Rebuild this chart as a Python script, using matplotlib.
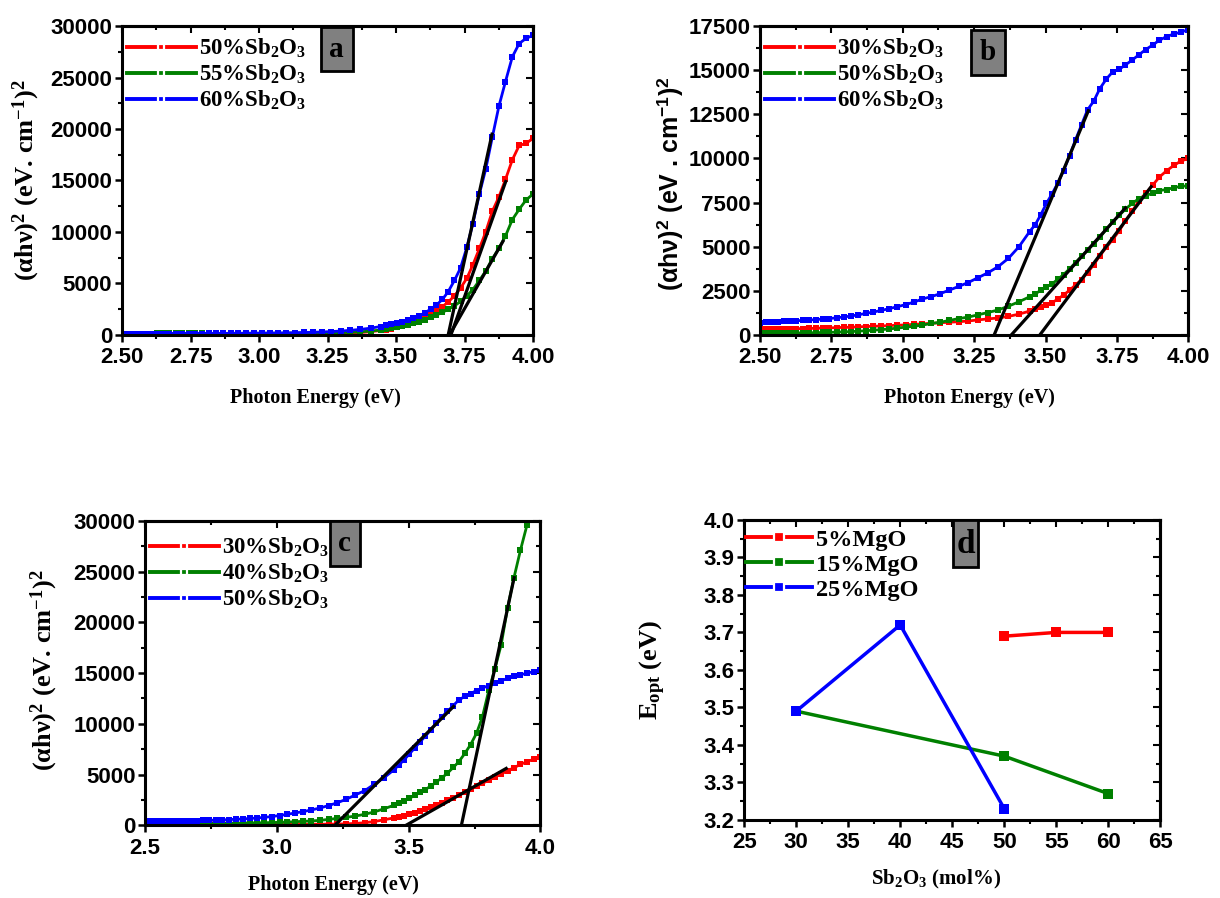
import matplotlib
matplotlib.use("Agg")
import matplotlib.pyplot as plt
from matplotlib.lines import Line2D
from matplotlib.patches import Rectangle
from matplotlib.ticker import MultipleLocator

plt.rcParams["font.family"] = ["Liberation Sans", "DejaVu Sans"]
plt.rcParams["font.weight"] = "bold"
plt.rcParams["mathtext.fontset"] = "custom"
plt.rcParams["mathtext.rm"] = "Liberation Serif:bold"
plt.rcParams["mathtext.it"] = "Liberation Serif:bold"
plt.rcParams["mathtext.bf"] = "Liberation Serif:bold"
plt.rcParams["mathtext.sf"] = "Liberation Sans:bold"

# ==================================================
# DATA
# ==================================================
E = [2.500, 2.520, 2.541, 2.562, 2.583, 2.605, 2.627, 2.650, 2.672, 2.696,
     2.719, 2.743, 2.768, 2.793, 2.818, 2.844, 2.870, 2.897, 2.925, 2.952,
     2.981, 3.010, 3.039, 3.069, 3.100, 3.131, 3.163, 3.196, 3.229, 3.263,
     3.298, 3.333, 3.370, 3.407, 3.444, 3.464, 3.483, 3.503, 3.523, 3.543,
     3.563, 3.584, 3.605, 3.626, 3.647, 3.669, 3.690, 3.713, 3.735, 3.758,
     3.780, 3.804, 3.827, 3.851, 3.875, 3.899, 3.924, 3.949, 3.974, 4.000]

# panel a
a_50 = [90, 90, 85, 85, 85, 80, 80, 80, 80, 75, 75, 75, 70, 70, 70, 65, 65, 60, 60, 60,
        55, 55, 50, 50, 45, 45, 45, 50, 60, 80, 110, 160, 230, 320, 440, 520, 620, 740, 870, 1030,
        1220, 1450, 1720, 2020, 2350, 2750, 3200, 3800, 4550, 5500, 6800, 8400, 10000, 12000, 13400,
        15100, 17000, 18400, 18600, 19100]
a_55 = [140, 140, 140, 140, 140, 140, 145, 145, 145, 145, 150, 150, 150, 150, 155, 155, 155, 160,
        160, 160, 165, 165, 170, 170, 175, 180, 185, 190, 200, 210, 230, 260, 310, 380, 480, 550,
        630, 730, 850, 980, 1130, 1300, 1480, 1700, 1930, 2200, 2480, 2820, 3250, 3800, 4400, 5300,
        6200, 7400, 8400, 9600, 11200, 12200, 13100, 13700]
a_60 = [100, 100, 105, 110, 110, 115, 120, 120, 125, 130, 130, 135, 140, 140, 145, 150, 150, 155,
        160, 165, 170, 175, 180, 190, 200, 220, 240, 260, 290, 330, 380, 450, 540, 660, 820, 920,
        1020, 1130, 1260, 1430, 1620, 1850, 2150, 2500, 2900, 3450, 4200, 5300, 6500, 8500, 10800,
        13700, 16100, 19200, 22200, 24600, 27000, 28300, 28800, 29100]
fit_a_x = [[3.700, 3.900], [3.695, 3.890], [3.690, 3.850]]
fit_a_y = [[0, 14900], [0, 9100], [0, 19500]]

# panel b
b_30 = [320, 330, 335, 340, 345, 350, 355, 360, 370, 380, 390, 400, 415, 430, 440, 460, 475, 490,
        510, 530, 550, 570, 600, 630, 660, 690, 720, 750, 790, 850, 910, 960, 1050, 1180, 1350, 1450,
        1560, 1690, 1830, 2030, 2260, 2530, 2830, 3130, 3530, 3980, 4490, 4960, 5400, 5900, 6480,
        7020, 7600, 8030, 8480, 8950, 9300, 9600, 9850, 10000]
b_50 = [100, 100, 102, 105, 108, 110, 115, 120, 125, 130, 140, 150, 160, 175, 190, 215, 240, 270,
        300, 340, 390, 440, 490, 560, 650, 720, 820, 930, 1010, 1140, 1270, 1410, 1630, 1880, 2160,
        2320, 2530, 2710, 2900, 3150, 3420, 3740, 4100, 4460, 4800, 5160, 5530, 5980, 6400, 6770,
        7130, 7460, 7720, 7900, 8030, 8180, 8240, 8340, 8420, 8450]
b_60 = [700, 715, 730, 750, 770, 790, 805, 825, 845, 870, 900, 930, 970, 1020, 1070, 1140, 1220,
        1300, 1390, 1490, 1600, 1720, 1860, 2040, 2170, 2340, 2540, 2750, 2970, 3240, 3520, 3860,
        4340, 5000, 5850, 6250, 6800, 7450, 8000, 8600, 9300, 10150, 11050, 11900, 12750, 13250,
        13950, 14500, 14900, 15050, 15300, 15580, 15870, 16170, 16420, 16700, 16900, 17050, 17150,
        17300]
fit_b_x = [[3.48, 3.87], [3.38, 3.78], [3.32, 3.65]]
fit_b_y = [[0, 8400], [0, 7200], [0, 12700]]

# panel c (40% series stops at 3.949 eV)
c_30 = [315, 310, 305, 300, 295, 290, 280, 270, 260, 250, 240, 230, 220, 210, 200, 190, 180, 170,
        160, 150, 140, 130, 120, 115, 110, 105, 105, 110, 120, 140, 180, 250, 370, 540, 730, 840,
        960, 1090, 1240, 1420, 1580, 1760, 1990, 2200, 2450, 2700, 2960, 3270, 3550, 3850, 4130,
        4440, 4740, 5060, 5360, 5670, 5990, 6270, 6500, 6700]
c_40 = [140, 140, 145, 150, 150, 155, 160, 165, 170, 175, 180, 185, 190, 195, 200, 210, 220, 230,
        240, 250, 270, 290, 320, 350, 390, 430, 480, 580, 680, 780, 910, 1080, 1320, 1630, 1970,
        2170, 2420, 2660, 2950, 3250, 3520, 3860, 4270, 4680, 5130, 5700, 6250, 7080, 7950, 9100,
        10700, 13300, 15400, 17800, 21400, 24350, 27100, 29600]
c_50 = [380, 385, 390, 395, 400, 410, 420, 430, 440, 455, 470, 490, 510, 530, 560, 590, 620, 670,
        720, 780, 860, 960, 1080, 1210, 1350, 1510, 1700, 1940, 2220, 2560, 2990, 3410, 4050, 4700,
        5470, 5960, 6460, 7040, 7620, 8210, 8780, 9390, 10080, 10690, 11220, 11790, 12340, 12700,
        12980, 13280, 13530, 13770, 13990, 14240, 14470, 14670, 14830, 14980, 15150, 15300]
fit_c_x = [[3.49, 3.87], [3.70, 3.90], [3.22, 3.67]]
fit_c_y = [[0, 5600], [0, 24400], [0, 11700]]

# panel d
mgo5_x, mgo5_y = [50, 55, 60], [3.69, 3.70, 3.70]
mgo15_x, mgo15_y = [30, 50, 60], [3.49, 3.37, 3.27]
mgo25_x, mgo25_y = [30, 40, 50], [3.49, 3.72, 3.23]

COLORS = ["#ff0000", "#008000", "#0000ff"]
SERIF = "Liberation Serif"


def style_axes(ax, xmaj, ymaj):
    for s in ax.spines.values():
        s.set_linewidth(2.2)
    ax.xaxis.set_major_locator(MultipleLocator(xmaj))
    ax.xaxis.set_minor_locator(MultipleLocator(xmaj / 2))
    ax.yaxis.set_major_locator(MultipleLocator(ymaj))
    ax.yaxis.set_minor_locator(MultipleLocator(ymaj / 2))
    ax.tick_params(which="major", direction="out", length=5, width=1.8, labelsize=16, pad=2)
    ax.tick_params(axis="x", which="major", pad=4)
    ax.tick_params(which="minor", direction="out", length=3, width=1.5)
    top = ax.secondary_xaxis("top")
    top.xaxis.set_major_locator(MultipleLocator(xmaj))
    top.xaxis.set_minor_locator(MultipleLocator(xmaj / 2))
    top.tick_params(which="both", direction="in", labeltop=False, width=1.5)
    top.tick_params(which="major", length=5)
    top.tick_params(which="minor", length=3)
    right = ax.secondary_yaxis("right")
    right.yaxis.set_major_locator(MultipleLocator(ymaj))
    right.yaxis.set_minor_locator(MultipleLocator(ymaj / 2))
    right.tick_params(which="both", direction="in", labelright=False, width=1.5)
    right.tick_params(which="major", length=5)
    right.tick_params(which="minor", length=3)
    for sec in (top, right):
        for s in sec.spines.values():
            s.set_linewidth(2.2)


def panel_tag(ax, letter, x, y):
    ax.text(x, y, letter, transform=ax.transAxes, ha="center", va="center",
            fontsize=21, fontfamily=SERIF, fontweight="bold", color="black", zorder=5,
            bbox=dict(boxstyle="square,pad=0.3", fc="#808080", ec="black", lw=2))


def legend(ax, labels, anchor, ms=5, hl=3.0, size=16.5):
    handles = [Line2D([], [], color=c, lw=2.8, marker="s", ms=ms, mec="white", mew=1.6)
               for c in COLORS]
    ax.legend(handles, labels, loc="upper left", bbox_to_anchor=anchor, frameon=False,
              handlelength=hl, handletextpad=0.15, labelspacing=0.12, borderaxespad=0,
              borderpad=0, prop=dict(family=SERIF, weight="bold", size=size))


def spectra(ax, series, fits_x, fits_y, labels, anchor):
    for (xs, ys), c in zip(series, COLORS):
        ax.plot(xs, ys, "-s", color=c, lw=2, ms=4.8, mew=0)
    for fx, fy in zip(fits_x, fits_y):
        ax.plot(fx, fy, color="black", lw=2.3)
    legend(ax, labels, anchor)


fig = plt.figure(figsize=(12.2, 8.98), dpi=100)
ax_a = fig.add_axes([0.100, 0.627, 0.337, 0.344])
ax_b = fig.add_axes([0.623, 0.627, 0.351, 0.344])
ax_c = fig.add_axes([0.119, 0.081, 0.324, 0.339])
ax_d = fig.add_axes([0.610, 0.087, 0.341, 0.334])

sb = "Sb$_2$O$_3$"

# ---- a
spectra(ax_a, [(E, a_50), (E, a_55), (E, a_60)], fit_a_x, fit_a_y,
        ["50%" + sb, "55%" + sb, "60%" + sb], (0.012, 0.965))
ax_a.set_xlim(2.5, 4.0)
ax_a.set_ylim(0, 30000)
style_axes(ax_a, 0.25, 5000)
ax_a.xaxis.set_major_formatter("{x:.2f}")
panel_tag(ax_a, "a", 0.522, 0.925)
ax_a.set_xlabel("Photon Energy (eV)", fontfamily=SERIF, fontsize=14.5, fontweight="bold")
ax_a.xaxis.set_label_coords(0.47, -0.172)
ax_a.set_ylabel("(αhν)$^2$ (eV. cm$^{-1}$)$^2$", fontfamily=SERIF, fontsize=19, fontweight="bold")
ax_a.yaxis.set_label_coords(-0.195, 0.5)

# ---- b
spectra(ax_b, [(E, b_30), (E, b_50), (E, b_60)], fit_b_x, fit_b_y,
        ["30%" + sb, "50%" + sb, "60%" + sb], (0.012, 0.965))
ax_b.set_xlim(2.5, 4.0)
ax_b.set_ylim(0, 17500)
style_axes(ax_b, 0.25, 2500)
ax_b.xaxis.set_major_formatter("{x:.2f}")
panel_tag(ax_b, "b", 0.532, 0.915)
ax_b.set_xlabel("Photon Energy (eV)", fontfamily=SERIF, fontsize=14.5, fontweight="bold")
ax_b.xaxis.set_label_coords(0.49, -0.172)
ax_b.set_ylabel(r"(αhν)$^{\mathsf{2}}$ (eV . cm$^{\mathsf{-1}}$)$^{\mathsf{2}}$", fontsize=18,
                fontweight="bold")
ax_b.yaxis.set_label_coords(-0.175, 0.49)

# ---- c
spectra(ax_c, [(E, c_30), (E[:len(c_40)], c_40), (E, c_50)], fit_c_x, fit_c_y,
        ["30%" + sb, "40%" + sb, "50%" + sb], (0.012, 0.95))
ax_c.set_xlim(2.5, 4.0)
ax_c.set_ylim(0, 30000)
style_axes(ax_c, 0.5, 5000)
ax_c.xaxis.set_major_formatter("{x:.1f}")
panel_tag(ax_c, "c", 0.505, 0.925)
ax_c.set_xlabel("Photon Energy (eV)", fontfamily=SERIF, fontsize=14.5, fontweight="bold")
ax_c.xaxis.set_label_coords(0.476, -0.165)
ax_c.set_ylabel("(αhν)$^2$ (eV. cm$^{-1}$)$^2$", fontfamily=SERIF, fontsize=19, fontweight="bold")
ax_c.yaxis.set_label_coords(-0.215, 0.51)

# ---- d
for xs, ys, c in zip([mgo5_x, mgo15_x, mgo25_x], [mgo5_y, mgo15_y, mgo25_y], COLORS):
    ax_d.plot(xs, ys, "-s", color=c, lw=2.5, ms=7, mew=0)
legend(ax_d, ["5%MgO", "15%MgO", "25%MgO"], (0.005, 0.97), ms=7.5, hl=2.7, size=17.5)
ax_d.set_xlim(25, 65)
ax_d.set_ylim(3.2, 4.0)
style_axes(ax_d, 5, 0.1)
ax_d.yaxis.set_major_formatter("{x:.1f}")
ax_d.add_patch(Rectangle((0.502, 0.843), 0.060, 0.157, transform=ax_d.transAxes,
                         fc="#808080", ec="black", lw=2, zorder=4))
ax_d.text(0.532, 0.918, "d", transform=ax_d.transAxes, ha="center", va="center",
          fontsize=24, fontfamily=SERIF, fontweight="bold", zorder=5)
ax_d.set_xlabel("Sb$_2$O$_3$ (mol%)", fontfamily=SERIF, fontsize=15, fontweight="bold")
ax_d.xaxis.set_label_coords(0.46, -0.16)
ax_d.set_ylabel(r"E$_{\mathrm{opt}}$ (eV)", fontfamily=SERIF, fontsize=19, fontweight="bold")
ax_d.yaxis.set_label_coords(-0.183, 0.5)

fig.savefig("out.png", dpi=100)
